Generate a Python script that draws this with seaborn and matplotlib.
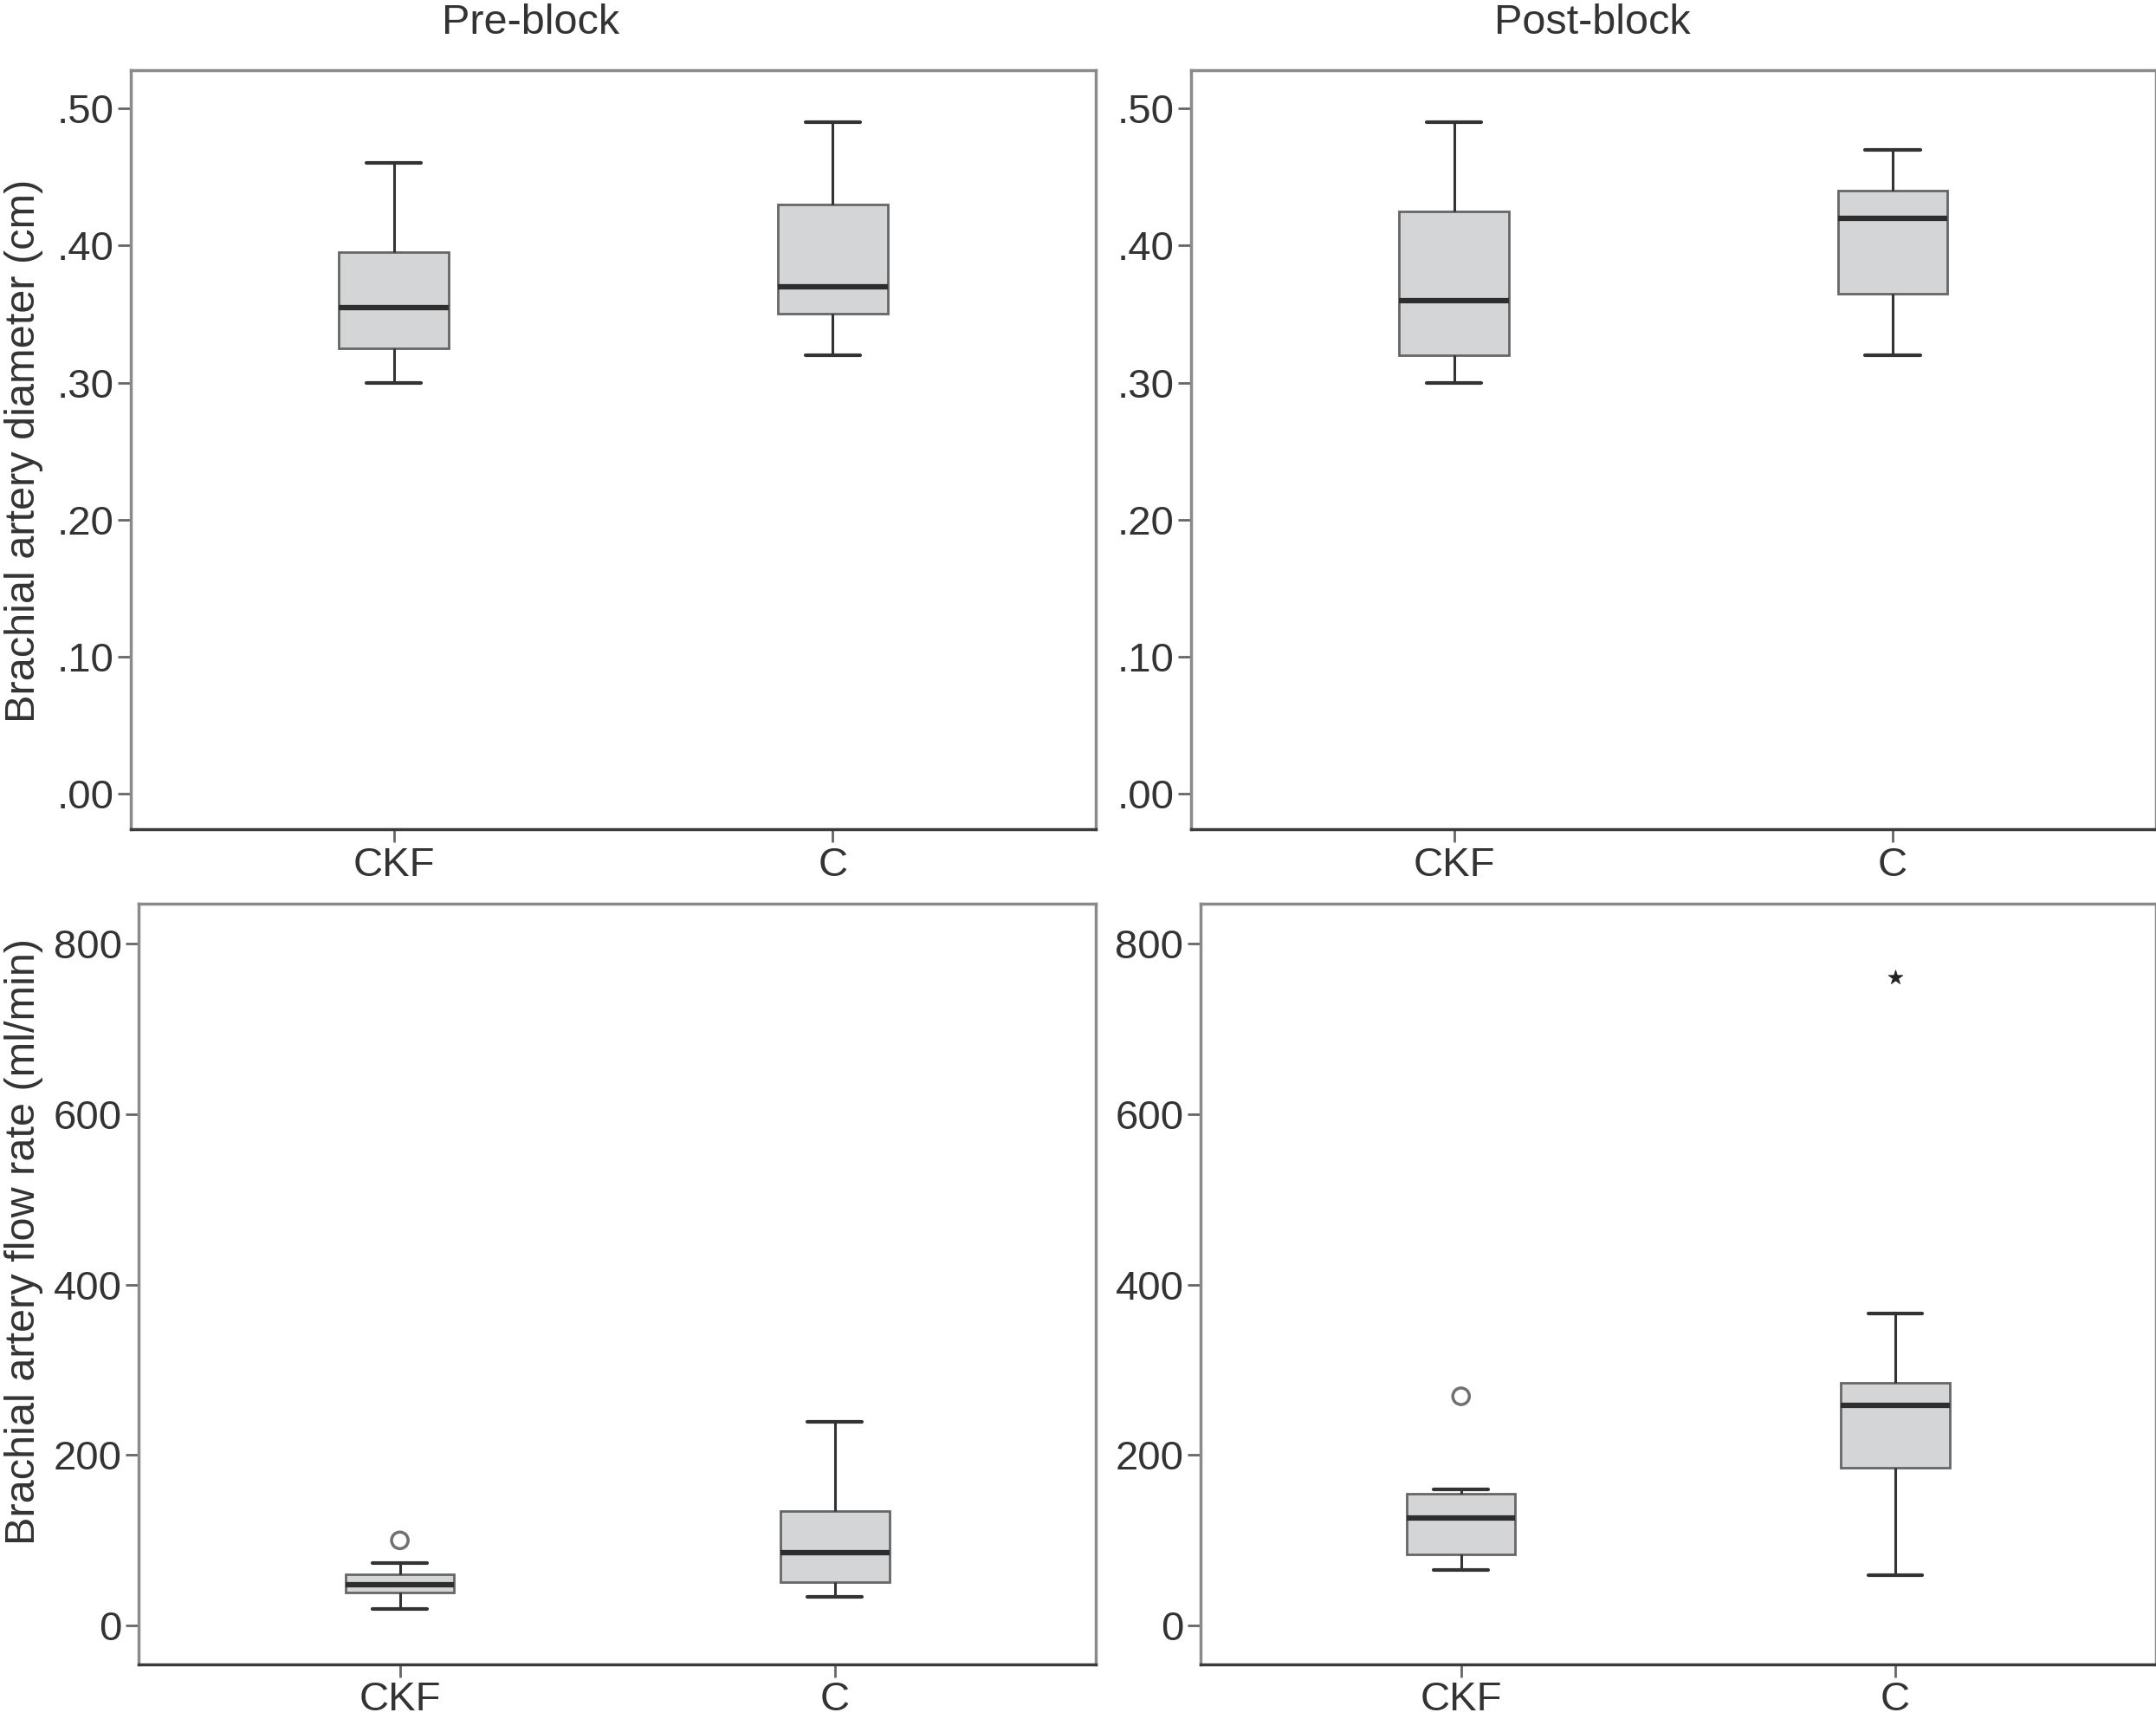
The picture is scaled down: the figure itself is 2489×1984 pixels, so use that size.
import numpy as np
import pandas as pd
import matplotlib
matplotlib.use("Agg")
import matplotlib.pyplot as plt
import seaborn as sns

# ---------------- data ----------------
groups = ["CKF", "C"]
stat_names = ["low", "q1", "median", "q3", "high"]

# Brachial artery diameter (cm)
pre_diam_ckf = [0.30, 0.325, 0.355, 0.395, 0.46]
pre_diam_c = [0.32, 0.35, 0.37, 0.43, 0.49]
post_diam_ckf = [0.30, 0.32, 0.36, 0.425, 0.49]
post_diam_c = [0.32, 0.365, 0.42, 0.44, 0.47]

# Brachial artery flow rate (ml/min)
pre_flow_ckf = [20, 39, 48, 60, 73]
pre_flow_c = [34, 51, 86, 134, 239]
post_flow_ckf = [65, 84, 126, 155, 160]
post_flow_c = [59, 185, 258, 285, 366]

# outliers: (group, value)
pre_flow_circle = [("CKF", 100)]
post_flow_circle = [("CKF", 269)]
post_flow_star = [("C", 760)]

diam_ticks = [0.0, 0.1, 0.2, 0.3, 0.4, 0.5]
diam_ticklabels = [".00", ".10", ".20", ".30", ".40", ".50"]
flow_ticks = [0, 200, 400, 600, 800]
flow_ticklabels = ["0", "200", "400", "600", "800"]

col_titles = ["Pre-block", "Post-block"]
ylab_diam = "Brachial artery diameter (cm)"
ylab_flow = "Brachial artery flow rate (ml/min)"

# ---------------- style ----------------
sns.set_theme(style="white")
FONT = ["Liberation Sans", "DejaVu Sans"]
plt.rcParams["font.family"] = FONT
TXT = "#333333"

fig = plt.figure(figsize=(24.89, 19.84), dpi=100)

positions = {
    "tl": [0.0606, 0.5176, 0.4477, 0.4416],
    "tr": [0.5523, 0.5176, 0.4477, 0.4416],
    "bl": [0.0644, 0.0320, 0.4439, 0.4424],
    "br": [0.5568, 0.0320, 0.4432, 0.4424],
}


def long_frame(ckf, c):
    return pd.DataFrame({
        "group": ["CKF"] * len(ckf) + ["C"] * len(c),
        "value": list(ckf) + list(c),
    })


def draw(ax, ckf, c, ylim, ticks, ticklabels, circles=(), stars=()):
    df = long_frame(ckf, c)
    sns.boxplot(
        data=df, x="group", y="value", order=groups, ax=ax,
        width=0.25, whis=(0, 100), showfliers=False,
        color="#d4d5d7", linecolor="#5f5f5f", linewidth=2.0,
        boxprops=dict(facecolor="#d4d5d7", edgecolor="#666666", linewidth=2.0),
        medianprops=dict(color="#2e2e2e", linewidth=4.5),
        whiskerprops=dict(color="#333333", linewidth=2.2),
        capprops=dict(color="#333333", linewidth=3.0),
    )
    if circles:
        xs = [groups.index(g) for g, _ in circles]
        ys = [v for _, v in circles]
        sns.scatterplot(x=xs, y=ys, ax=ax, marker="o", s=190,
                        facecolor="none", edgecolor="#707070", linewidth=2.5,
                        legend=False, zorder=5)
    if stars:
        xs = [groups.index(g) for g, _ in stars]
        ys = [v for _, v in stars]
        sns.scatterplot(x=xs, y=ys, ax=ax, marker="*", s=160,
                        color="#222222", edgecolor="#222222", linewidth=0.5,
                        legend=False, zorder=5)
    ax.set_xlim(-0.6, 1.6)
    ax.set_ylim(*ylim)
    ax.set_yticks(ticks)
    ax.set_yticklabels(ticklabels)
    ax.set_xlabel("")
    ax.set_ylabel("")
    ax.tick_params(axis="both", which="major", direction="out", length=11,
                   width=2, color="#666666", labelsize=34, labelcolor=TXT,
                   pad=3, left=True, bottom=True)
    for side in ["top", "right", "left"]:
        ax.spines[side].set_color("#8a8a8a")
        ax.spines[side].set_linewidth(2.5)
        ax.spines[side].set_visible(True)
    ax.spines["bottom"].set_color("#3a3a3a")
    ax.spines["bottom"].set_linewidth(2.5)
    ax.spines["bottom"].set_visible(True)
    ax.grid(False)


ax_tl = fig.add_axes(positions["tl"])
draw(ax_tl, pre_diam_ckf, pre_diam_c, (-0.026, 0.528), diam_ticks, diam_ticklabels)
ax_tr = fig.add_axes(positions["tr"])
draw(ax_tr, post_diam_ckf, post_diam_c, (-0.026, 0.528), diam_ticks, diam_ticklabels)
ax_bl = fig.add_axes(positions["bl"])
draw(ax_bl, pre_flow_ckf, pre_flow_c, (-45, 847), flow_ticks, flow_ticklabels,
     circles=pre_flow_circle)
ax_br = fig.add_axes(positions["br"])
draw(ax_br, post_flow_ckf, post_flow_c, (-45, 847), flow_ticks, flow_ticklabels,
     circles=post_flow_circle, stars=post_flow_star)

fig.text(0.2462, 0.9864, col_titles[0], ha="center", va="center",
         fontsize=35, color=TXT)
fig.text(0.7385, 0.9864, col_titles[1], ha="center", va="center",
         fontsize=35, color=TXT)
fig.text(0.0112, 0.7376, ylab_diam, ha="center", va="center", rotation=90,
         fontsize=35, color=TXT)
fig.text(0.0112, 0.2776, ylab_flow, ha="center", va="center", rotation=90,
         fontsize=35, color=TXT)

fig.savefig("out.png", dpi=100, facecolor="white")
